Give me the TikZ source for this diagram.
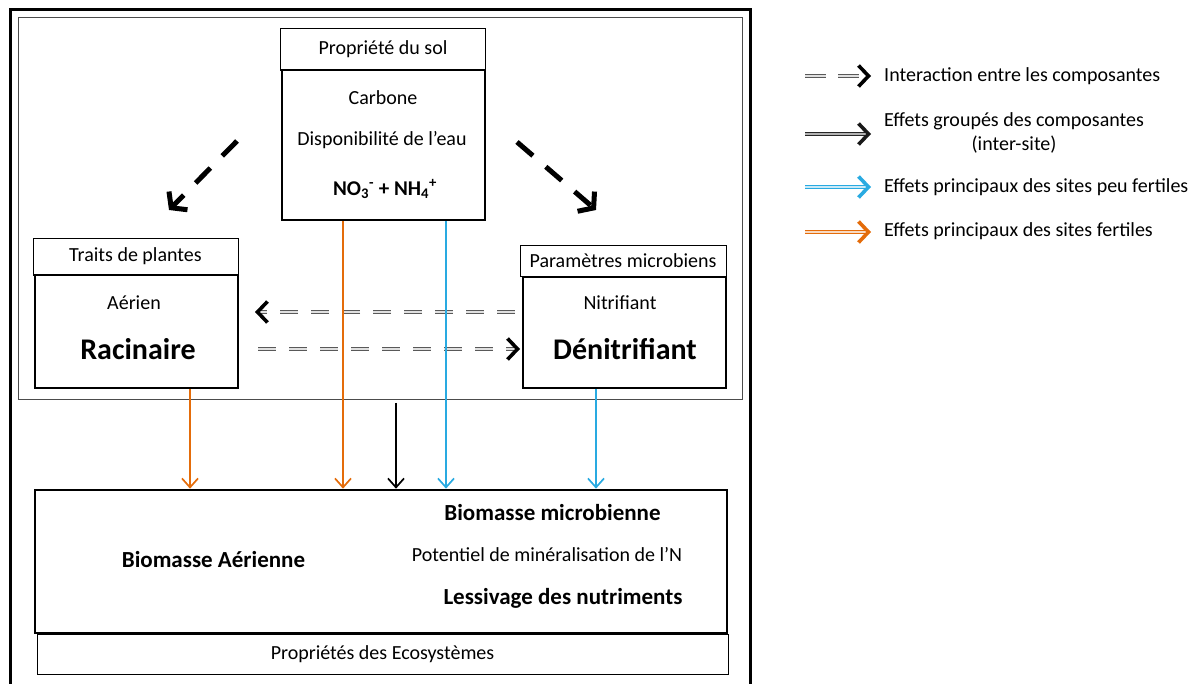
\documentclass[tikz,border=0pt]{standalone}
\usepackage{fontspec}
\setmainfont{Carlito}
\usetikzlibrary{arrows.meta,positioning,calc}
\definecolor{orangecolor}{RGB}{228,108,10}
\definecolor{bluecolor}{RGB}{41,170,225}
\newcommand{\regfont}{\fontsize{20}{24}\selectfont}
\newcommand{\boldfont}{\fontsize{23}{27}\selectfont\bfseries}
\newcommand{\bigfont}{\fontsize{30}{34}\selectfont\bfseries}

\begin{document}
\begin{tikzpicture}[x=1pt, y=-1pt,
  header/.style={draw, line width=0.8pt, inner sep=0pt, font=\regfont},
  panel/.style={draw, line width=2.6pt, inner sep=0pt},
  txt/.style={inner sep=0pt, font=\regfont},
  flow/.style={draw=#1, line width=1.7pt, -{Straight Barb[length=9pt, width=16pt]}},
  diag/.style={line width=5pt, dash pattern=on 21pt off 17pt,
    -{Straight Barb[length=10pt, width=26pt]}},
  dblline/.style={draw=#1, double=white, double distance=1.4pt,
    line width=1.5pt, shorten >=6pt},
  dbltip/.style={draw=#1, line width=3.6pt, -{Straight Barb[length=10pt, width=21pt]}},
]
  \useasboundingbox (0,0) rectangle (1194,684);

  % Frames
  \draw[line width=3pt] (10,684) |- (750,10) -- (750,684);
  \node[draw=black!70, line width=1pt, minimum width=724pt, minimum height=382pt,
    inner sep=0pt] (site) at (380,209) {};

  % Soil properties
  \node[header, minimum width=205pt, minimum height=42pt] (solhdr) at (383,49) {Propriété du sol};
  \node[panel, minimum width=203pt, minimum height=150pt] (sol) at (383.5,145) {};
  \node[txt] (carbone) at (383,98) {Carbone};
  \node[txt] (eau) at (382,140) {Disponibilité de l’eau};
  \node[txt, font=\fontsize{21}{25}\selectfont\bfseries] (azote) at (385,189)
    {NO\textsubscript{3}\textsuperscript{-} + NH\textsubscript{4}\textsuperscript{+}};

  % Plant traits
  \node[header, minimum width=205pt, minimum height=37pt] (planthdr) at (135.5,256.5) {Traits de plantes};
  \node[panel, minimum width=203pt, minimum height=113pt] (plant) at (136.5,331.5) {};
  \node[txt] (aerien) at (134,303) {Aérien};
  \node[txt, font=\bigfont] (racine) at (138,349) {Racinaire};

  % Microbial parameters
  \node[header, minimum width=206pt, minimum height=31pt] (microhdr) at (623,260.5) {Paramètres microbiens};
  \node[panel, minimum width=203pt, minimum height=111pt] (micro) at (624.5,332.5) {};
  \node[txt] (nitri) at (620,303) {Nitrifiant};
  \node[txt, font=\bigfont] (denitri) at (625,349) {Dénitrifiant};

  % Ecosystem properties
  \node[panel, minimum width=692pt, minimum height=143pt] (eco) at (381,561.5) {};
  \node[header, minimum width=691pt, minimum height=40pt] (ecohdr) at (382.5,654) {Propriétés des Ecosystèmes};
  \node[txt, font=\boldfont] (bioaer) at (213.5,560) {Biomasse Aérienne};
  \node[txt, font=\boldfont] (biomic) at (552.5,513) {Biomasse microbienne};
  \node[txt] (minera) at (547,555) {Potentiel de minéralisation de l’N};
  \node[txt, font=\boldfont] (lessiv) at (563,598) {Lessivage des nutriments};

  % Soil effects on plants and microbes
  \coordinate (dl) at (237,141);
  \coordinate (dlend) at (169,210);
  \coordinate (dr) at (517,142);
  \coordinate (drend) at (596,210);
  \draw[diag] (dl) -- (dlend);
  \draw[diag] (dr) -- (drend);

  % Plant-microbe interactions
  \coordinate (ia) at (515,312);
  \coordinate (ib) at (255,312);
  \coordinate (ic) at (258,349);
  \coordinate (id) at (520,349);
  \draw[dblline=black!65, double=black!12, dash pattern=on 18pt off 13pt] (ia) -- (ib);
  \draw[dbltip=black] ($(ib)!4pt!(ia)$) -- (ib);
  \draw[dblline=black!65, double=black!12, dash pattern=on 18pt off 13pt] (ic) -- (id);
  \draw[dbltip=black] ($(id)!4pt!(ic)$) -- (id);

  % Main effects
  \draw[flow=orangecolor] (190,0 |- plant.south) -- (190,0 |- eco.north);
  \draw[flow=orangecolor] (343,0 |- sol.south) -- (343,0 |- eco.north);
  \coordinate (groupe) at (396,403);
  \draw[flow=black] (groupe) -- (groupe |- eco.north);
  \draw[flow=bluecolor] (446,0 |- sol.south) -- (446,0 |- eco.north);
  \draw[flow=bluecolor] (596,0 |- micro.south) -- (596,0 |- eco.north);

  % Legend
  \foreach \y/\name in {76/l1, 134/l2, 187/l3, 232/l4} {
    \coordinate (\name a) at (805,\y);
    \coordinate (\name b) at (871,\y);
  }
  \draw[dblline=black!65, double=black!12, dash pattern=on 21pt off 12pt] (l1a) -- (l1b);
  \draw[dbltip=black] ($(l1b)!4pt!(l1a)$) -- (l1b);
  \draw[dblline=black!85, double=gray!60] (l2a) -- (l2b);
  \draw[dbltip=black!90] ($(l2b)!4pt!(l2a)$) -- (l2b);
  \draw[dblline=bluecolor, double=bluecolor!25] (l3a) -- (l3b);
  \draw[dbltip=bluecolor] ($(l3b)!4pt!(l3a)$) -- (l3b);
  \draw[dblline=orangecolor, double=orangecolor!25] (l4a) -- (l4b);
  \draw[dbltip=orangecolor] ($(l4b)!4pt!(l4a)$) -- (l4b);
  \node[txt, anchor=west] (leg1) at (884,76) {Interaction entre les composantes};
  \node[txt, anchor=west, align=center] (leg2) at (884,133) {Effets groupés des composantes\\(inter-site)};
  \node[txt, anchor=west] (leg3) at (884,187) {Effets principaux des sites peu fertiles};
  \node[txt, anchor=west] (leg4) at (884,231) {Effets principaux des sites fertiles};
\end{tikzpicture}
\end{document}
